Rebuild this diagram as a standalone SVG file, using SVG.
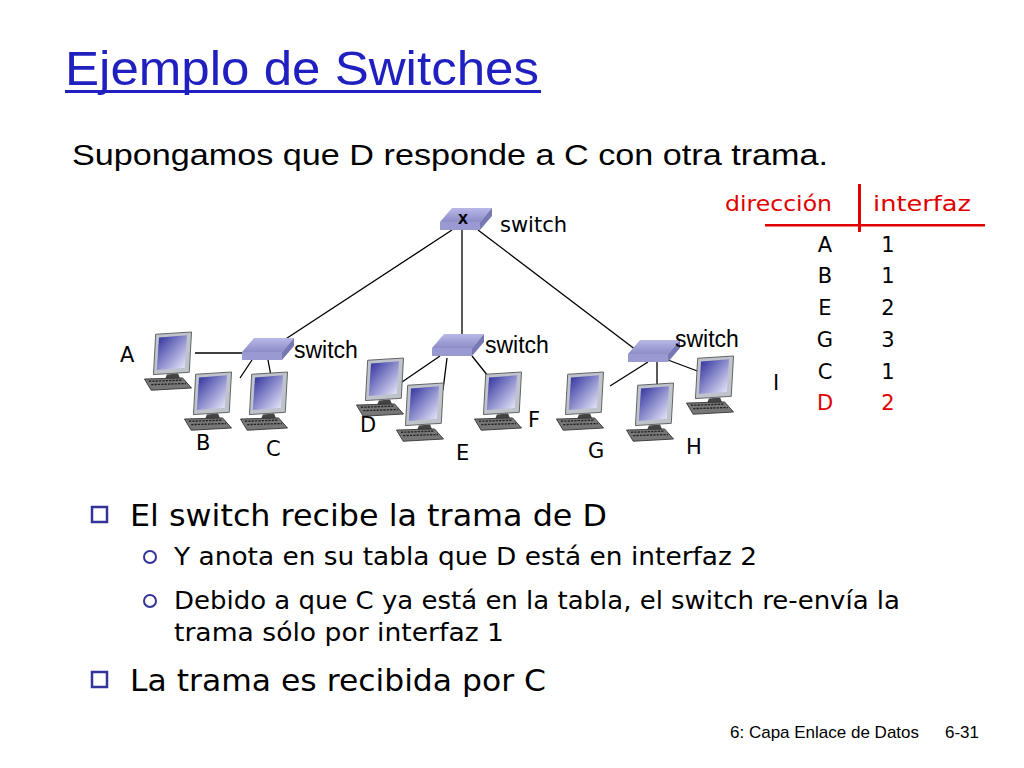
<svg xmlns="http://www.w3.org/2000/svg" xmlns:xlink="http://www.w3.org/1999/xlink" width="1024" height="768" viewBox="0 0 1024 768">
<style>
.t{font-family:"Liberation Sans",Arial,sans-serif}
.c{font-family:"DejaVu Sans","Noto Sans",sans-serif}
.ln{stroke:#000;stroke-width:1.3;fill:none}
.red{fill:#e00000}
</style>
<defs>
<linearGradient id="scr" x1="0" y1="0" x2="1" y2="1"><stop offset="0" stop-color="#2a2a9a"/><stop offset="1" stop-color="#f0f0ff"/></linearGradient>
<linearGradient id="sw" x1="0" y1="0" x2="0" y2="1"><stop offset="0" stop-color="#b8b8e8"/><stop offset="1" stop-color="#8c8cc8"/></linearGradient>
<g id="pc">
<g transform="scale(1.12)">
<path d="M14 2 L46 0 L44 36 L12 38 Z" fill="#bfc4cc" stroke="#555" stroke-width="0.8"/>
<path d="M17 5 L42 3 L40 32 L15 34 Z" fill="url(#scr)"/>
<path d="M24 38 L34 37 L36 42 L22 43 Z" fill="#444"/>
<path d="M4 42 L38 41 L46 50 L10 52 Z" fill="#777" stroke="#333" stroke-width="0.8"/>
<path d="M8 44 L37 43 M10 47 L41 46" stroke="#222" stroke-width="1.2" stroke-dasharray="2 1"/>
</g>
</g>
<g id="sw1">
<path d="M12 0 L52 0 L40 14 L0 14 Z" fill="url(#sw)"/>
<path d="M0 14 L40 14 L40 22 L0 22 Z" fill="#9a9ad2"/>
<path d="M40 14 L52 0 L52 8 L40 22 Z" fill="#7878b4"/>
</g>
</defs>
<text class="t" x="65" y="85" font-size="48" fill="#2020c0" textLength="474" lengthAdjust="spacingAndGlyphs">Ejemplo de Switches</text>
<rect x="65" y="90" width="476" height="3" fill="#2020c0"/>
<text class="t" x="72" y="165" font-size="30" textLength="756" lengthAdjust="spacingAndGlyphs">Supongamos que D responde a C con otra trama.</text>

<g id="connectors">
<path class="ln" d="M452 230 L278 344 M462 230 L462 338 M478 230 L636 350"/>
<path class="ln" d="M195 353 L244 353 M252 360 L240 378 M268 360 L271 376"/>
<path class="ln" d="M440 356 L402 382 M447 358 L443 390 M472 356 L492 381"/>
<path class="ln" d="M648 362 L610 386 M657 362 L657 390 M668 360 L700 372"/>
</g>

<g id="sw-top"><use href="#sw1" x="440" y="208"/><text class="t" x="458" y="224" font-size="18" font-weight="bold">x</text><text class="c" x="500" y="232" font-size="21">switch</text></g>
<g id="sw-left"><use href="#sw1" x="242" y="338"/><text class="t" x="294" y="358" font-size="23">switch</text></g>
<g id="sw-mid"><use href="#sw1" x="432" y="334"/><text class="t" x="485" y="353" font-size="23">switch</text></g>
<g id="sw-right"><use href="#sw1" x="628" y="340"/><text class="t" x="675" y="347" font-size="23">switch</text></g>

<g id="pc-A"><use href="#pc" x="140" y="332"/><text class="c" x="120" y="362" font-size="21">A</text></g>
<g id="pc-B"><use href="#pc" x="180" y="372"/><text class="c" x="196" y="450" font-size="21">B</text></g>
<g id="pc-C"><use href="#pc" x="236" y="372"/><text class="c" x="266" y="456" font-size="21">C</text></g>
<g id="pc-D"><use href="#pc" x="352" y="358"/><text class="c" x="360" y="432" font-size="21">D</text></g>
<g id="pc-E"><use href="#pc" x="392" y="383"/><text class="c" x="456" y="460" font-size="21">E</text></g>
<g id="pc-F"><use href="#pc" x="470" y="372"/><text class="c" x="528" y="427" font-size="21">F</text></g>
<g id="pc-G"><use href="#pc" x="552" y="372"/><text class="c" x="588" y="458" font-size="21">G</text></g>
<g id="pc-H"><use href="#pc" x="622" y="383"/><text class="c" x="686" y="454" font-size="21">H</text></g>
<g id="pc-I"><use href="#pc" x="682" y="356"/><text class="c" x="773" y="390" font-size="21">I</text></g>

<g id="table" class="c" font-size="21">
<text class="red" x="725" y="211" textLength="107" lengthAdjust="spacingAndGlyphs">dirección</text>
<text class="red" x="873" y="211" textLength="98" lengthAdjust="spacingAndGlyphs">interfaz</text>
<rect x="858" y="184" width="3" height="48" fill="#e00000"/>
<rect x="765" y="224" width="220" height="2.5" fill="#e00000"/>
<g text-anchor="middle">
<text x="825" y="252">A</text><text x="888" y="252">1</text>
<text x="825" y="283">B</text><text x="888" y="283">1</text>
<text x="825" y="315">E</text><text x="888" y="315">2</text>
<text x="825" y="347">G</text><text x="888" y="347">3</text>
<text x="825" y="379">C</text><text x="888" y="379">1</text>
<text class="red" x="825" y="410">D</text><text class="red" x="888" y="410">2</text>
</g>
</g>

<g id="bullets" class="c">
<rect x="92" y="507" width="15" height="15" fill="none" stroke="#333399" stroke-width="2.5"/>
<text x="130" y="526" font-size="30" textLength="477" lengthAdjust="spacingAndGlyphs">El switch recibe la trama de D</text>
<circle cx="150" cy="557" r="6" fill="none" stroke="#333399" stroke-width="2"/>
<text x="174" y="565" font-size="24" textLength="583" lengthAdjust="spacingAndGlyphs">Y anota en su tabla que D está en interfaz 2</text>
<circle cx="150" cy="601" r="6" fill="none" stroke="#333399" stroke-width="2"/>
<text x="174" y="609" font-size="24" textLength="726" lengthAdjust="spacingAndGlyphs">Debido a que C ya está en la tabla, el switch re-envía la</text>
<text x="174" y="641" font-size="24" textLength="330" lengthAdjust="spacingAndGlyphs">trama sólo por interfaz 1</text>
<rect x="92" y="672" width="15" height="15" fill="none" stroke="#333399" stroke-width="2.5"/>
<text x="130" y="691" font-size="30" textLength="416" lengthAdjust="spacingAndGlyphs">La trama es recibida por C</text>
</g>
<text class="t" x="730" y="738" font-size="17">6: Capa Enlace de Datos</text>
<text class="t" x="945" y="738" font-size="17">6-31</text>
</svg>
